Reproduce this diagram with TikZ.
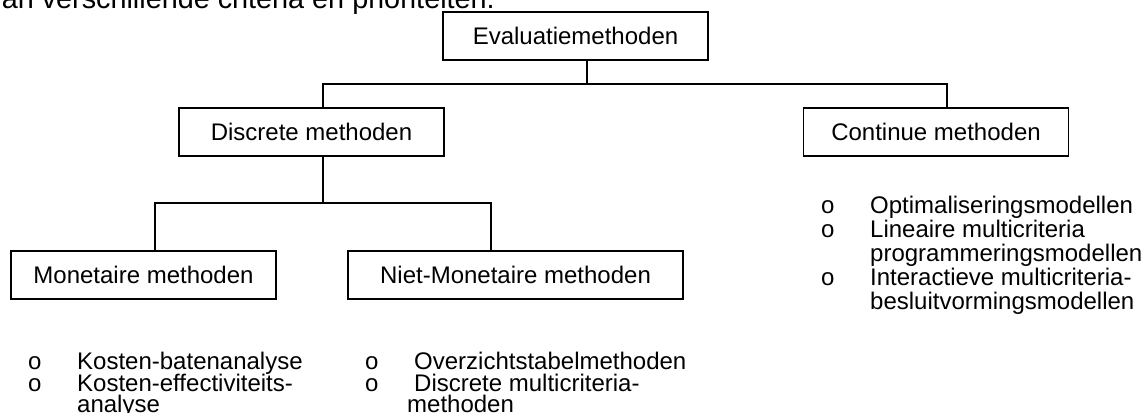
\documentclass[tikz,border=0pt]{standalone}
\usepackage{fontspec}
\setmainfont{Liberation Sans}
\begin{document}
\begin{tikzpicture}[x=1pt,y=-1pt,
  txt/.style={inner sep=0pt,anchor=base west,font=\fontsize{24}{24}\selectfont},
  box/.style={draw,line width=1.8pt,inner sep=0pt,minimum width=265pt,minimum height=48pt,font=\fontsize{24}{24}\selectfont},
  conn/.style={line width=1.8pt}]
\useasboundingbox (0,0) rectangle (1145,412);
\clip (0,0) rectangle (1145,412);
% top cut-off line of body text
\node[inner sep=0pt,anchor=base east,font=\fontsize{28.8}{28.8}\selectfont] (top) at (495,8.5) {an verschillende criteria en prioriteiten.};
% boxes
\node[box] (eval) at (575.5,36) {Evaluatiemethoden};
\node[box] (disc) at (311.5,132) {Discrete methoden};
\node[box] (cont) at (936,132) {Continue methoden};
\node[box] (mon)  at (143.5,275) {Monetaire methoden};
\node[box,minimum width=335pt] (niet) at (515.5,275) {Niet-Monetaire methoden};
% junction coordinates
\coordinate (ej) at (587,84);
\coordinate (dj) at (323,84);
\coordinate (cj) at (947,84);
\coordinate (dd) at (323,203);
\coordinate (mj) at (155,203);
\coordinate (nj) at (491,203);
% connectors
\draw[conn] (ej |- eval.south) -- (ej);
\draw[conn] (dj |- disc.north) -- (dj) -- (cj) -- (cj |- cont.north);
\draw[conn] (dd |- disc.south) -- (dd);
\draw[conn] (mj |- mon.north) -- (mj) -- (nj) -- (nj |- niet.north);
% bottom left list
\node[txt] (b1) at (28,369) {o};
\node[txt] (t1) at (77,369) {Kosten-batenanalyse};
\node[txt] (b2) at (28,391) {o};
\node[txt] (t2) at (77,391) {Kosten-effectiviteits-};
\node[txt] (t2b) at (77,412) {analyse};
% bottom middle list
\node[txt] (b3) at (365,369) {o};
\node[txt] (t3) at (414,369) {Overzichtstabelmethoden};
\node[txt] (b4) at (365,391) {o};
\node[txt] (t4) at (414,391) {Discrete multicriteria-};
\node[txt] (t4b) at (407,412) {methoden};
% right list
\node[txt] (b5) at (821,213) {o};
\node[txt] (t5) at (870,213) {Optimaliseringsmodellen};
\node[txt] (b6) at (821,237) {o};
\node[txt] (t6) at (870,237) {Lineaire multicriteria};
\node[txt] (t6b) at (870,261) {programmeringsmodellen};
\node[txt] (b7) at (821,285) {o};
\node[txt] (t7) at (870,285) {Interactieve multicriteria-};
\node[txt] (t7b) at (870,309) {besluitvormingsmodellen};
\end{tikzpicture}
\end{document}
